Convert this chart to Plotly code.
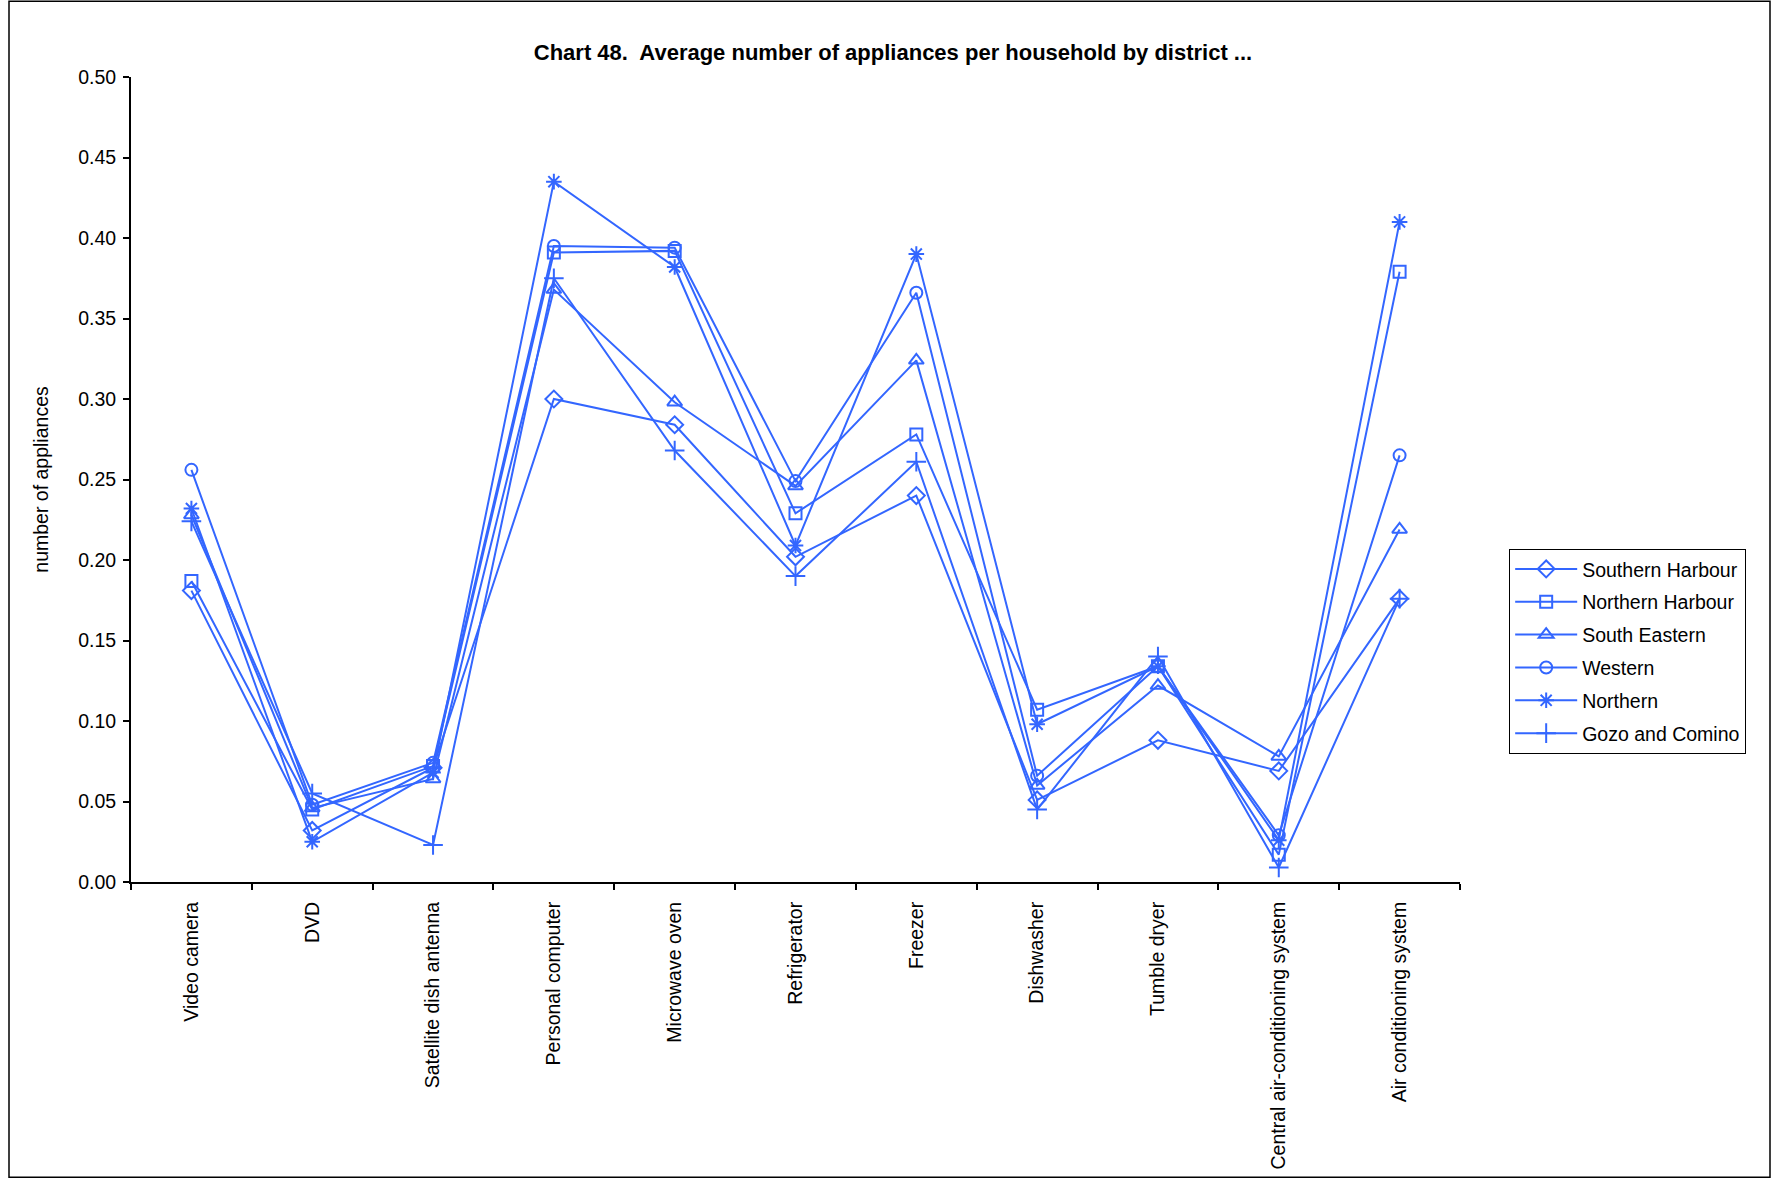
import plotly.graph_objects as go

categories = ["Video camera", "DVD", "Satellite dish antenna", "Personal computer",
              "Microwave oven", "Refrigerator", "Freezer", "Dishwasher", "Tumble dryer",
              "Central air-conditioning system", "Air conditioning system"]

southern_harbour = [0.181, 0.032, 0.071, 0.300, 0.284, 0.202, 0.240, 0.051, 0.088, 0.069, 0.176]
northern_harbour = [0.187, 0.045, 0.072, 0.391, 0.392, 0.229, 0.278, 0.107, 0.134, 0.017, 0.379]
south_eastern = [0.228, 0.046, 0.064, 0.368, 0.298, 0.246, 0.324, 0.060, 0.122, 0.078, 0.219]
western = [0.256, 0.048, 0.074, 0.395, 0.394, 0.249, 0.366, 0.066, 0.134, 0.029, 0.265]
northern = [0.232, 0.025, 0.068, 0.435, 0.382, 0.209, 0.390, 0.098, 0.134, 0.026, 0.410]
gozo_comino = [0.224, 0.055, 0.023, 0.375, 0.268, 0.190, 0.261, 0.045, 0.140, 0.009, 0.176]

series = [
    ("Southern Harbour", southern_harbour, "diamond-open", 13),
    ("Northern Harbour", northern_harbour, "square-open", 12),
    ("South Eastern", south_eastern, "triangle-up-open", 13),
    ("Western", western, "circle-open", 12),
    ("Northern", northern, "asterisk-open", 13),
    ("Gozo and Comino", gozo_comino, "cross-thin-open", 14),
]

BLUE = "#3366FF"
fig = go.Figure()
for i, (name, vals, sym, sz) in enumerate(series):
    fig.add_trace(go.Scatter(
        x=categories, y=vals, name=name, mode="lines+markers",
        legendgroup=f"g{i}",
        line=dict(color=BLUE, width=2),
        marker=dict(symbol=sym, size=sz, color=BLUE, line=dict(color=BLUE, width=2)),
    ))

fig.update_layout(
    width=1773, height=1182,
    paper_bgcolor="white", plot_bgcolor="white",
    margin=dict(l=131, r=313, t=77, b=298),
    font=dict(family="Liberation Sans, Arial, sans-serif", size=19, color="black"),
    title=dict(text="<b>Chart 48.  Average number of appliances per household by district ...</b>",
               x=893 / 1773, xanchor="center", y=1 - 52 / 1182, yanchor="middle",
               font=dict(size=22, color="black")),
    showlegend=True,
    legend=dict(x=1.037, y=0.414, xanchor="left", yanchor="top",
                bordercolor="black", borderwidth=1, bgcolor="white",
                font=dict(size=19.5, color="black"), tracegroupgap=4.5,
                itemwidth=62),
)
fig.update_xaxes(
    type="category", range=[-0.5, 10.5], showgrid=False,
    showline=True, linecolor="black", linewidth=2,
    ticks="outside", tickson="boundaries", ticklen=6, tickcolor="black", tickwidth=1.5,
    tickangle=-90, tickfont=dict(size=19.5), ticklabelstandoff=10,
)
fig.update_yaxes(
    range=[0, 0.5], dtick=0.05, tickformat=".2f", showgrid=False,
    showline=True, linecolor="black", linewidth=2,
    ticks="outside", ticklen=6, tickcolor="black", tickwidth=1.5,
    tickfont=dict(size=19.5), zeroline=False, ticklabelstandoff=3,
    title=dict(text="number of appliances", font=dict(size=19.5), standoff=24),
)
# outer chart frame
fig.add_shape(type="rect", xref="paper", yref="paper",
              x0=(9 - 131) / 1329, x1=(1770 - 131) / 1329,
              y0=(884 - 1180) / 807, y1=(884 - 1) / 807,
              line=dict(color="black", width=1.5), fillcolor="rgba(0,0,0,0)", layer="below")

fig.write_html("out.html", config={"displayModeBar": False},
               post_script="document.body.style.margin='0';document.body.style.overflow='hidden';")
